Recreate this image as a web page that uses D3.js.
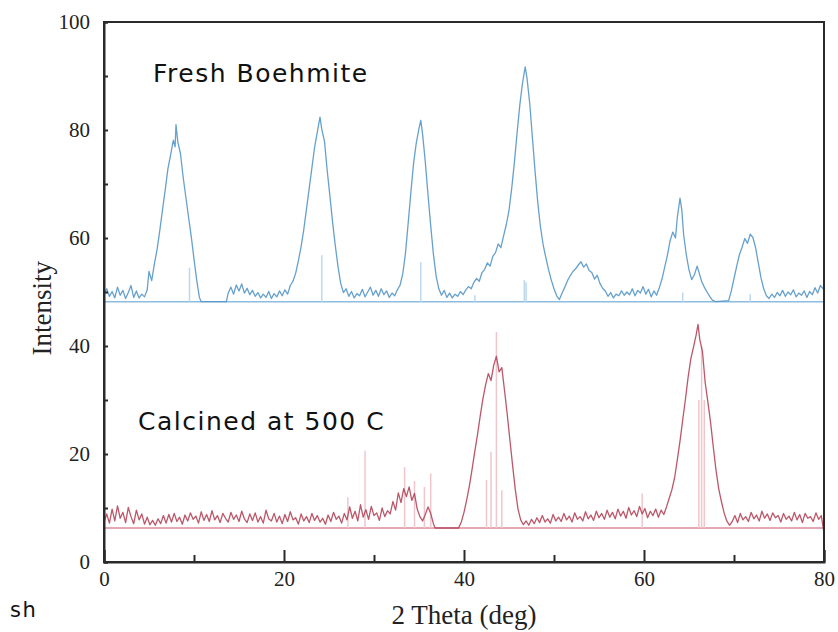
<!DOCTYPE html>
<html>
<head>
<meta charset="utf-8">
<script src="https://cdn.jsdelivr.net/npm/d3@7"></script>
<style>
  html, body { margin: 0; padding: 0; background: #fff; }
  svg { display: block; }
</style>
</head>
<body>
<script>
// ---------------- DATA ----------------
const xTicksMajor = [0, 20, 40, 60, 80];
const xTicksMinor = [10, 30, 50, 70];
const yTicksMajor = [0, 20, 40, 60, 80, 100];
const yTicksMinor = [10, 30, 50, 70, 90];

const freshLabel = "Fresh Boehmite";
const calcinedLabel = "Calcined at 500 C";
const freshBaseline = 48.2;
const calcinedBaseline = 6.3;

// Fresh boehmite pattern [2theta, intensity]
const freshPattern = [
[0.0,49.5],[0.3,50.6],[0.6,49.2],[0.9,50.1],[1.2,48.9],[1.5,50.9],[1.8,49.4],[2.1,50.3],[2.4,48.8],[2.7,49.9],
[3.0,51.2],[3.3,49.0],[3.6,50.2],[3.9,48.9],[4.2,49.6],[4.5,49.1],[4.8,50.4],[5.0,53.8],[5.3,52.1],[5.6,55.2],
[5.9,57.9],[6.2,61.4],[6.5,65.2],[6.8,68.9],[7.1,72.8],[7.4,75.4],[7.7,78.1],[7.9,76.9],[8.0,81.0],[8.2,77.8],
[8.5,75.6],[8.8,71.2],[9.1,67.5],[9.4,63.8],[9.7,60.2],[10.0,56.1],[10.3,52.2],[10.6,49.0],[10.8,48.2],[13.6,48.2],
[13.8,49.8],[14.1,50.9],[14.4,49.6],[14.7,51.3],[15.0,50.2],[15.3,51.5],[15.6,49.8],[15.9,50.7],[16.2,49.5],[16.5,50.3],
[16.8,49.2],[17.1,49.9],[17.4,48.9],[17.7,49.6],[18.0,49.0],[18.3,50.1],[18.6,48.8],[18.9,49.7],[19.2,49.1],[19.5,50.2],
[19.8,49.3],[20.1,50.4],[20.4,49.6],[20.7,51.2],[21.0,52.0],[21.3,53.5],[21.6,55.8],[21.9,58.4],[22.2,61.6],[22.5,65.4],
[22.8,69.2],[23.1,73.0],[23.4,76.8],[23.7,79.6],[24.0,82.4],[24.2,80.1],[24.5,77.9],[24.8,72.5],[25.1,67.8],[25.4,62.9],
[25.7,58.6],[26.0,54.7],[26.3,51.6],[26.6,49.9],[26.9,50.6],[27.2,49.2],[27.5,50.1],[27.8,48.9],[28.1,49.7],[28.4,49.3],
[28.7,50.5],[29.0,49.1],[29.3,50.0],[29.6,50.9],[29.9,49.4],[30.2,50.3],[30.5,49.2],[30.8,50.6],[31.1,49.5],[31.4,50.2],
[31.7,49.0],[32.0,49.8],[32.3,49.3],[32.6,50.4],[32.9,51.3],[33.2,53.4],[33.5,57.2],[33.8,62.8],[34.1,68.5],[34.4,73.9],
[34.7,77.6],[35.0,80.3],[35.2,81.8],[35.4,79.2],[35.7,74.1],[36.0,68.0],[36.3,62.3],[36.6,57.0],[36.9,53.0],[37.2,50.6],
[37.5,49.4],[37.8,50.3],[38.1,49.0],[38.4,49.8],[38.7,48.9],[39.0,49.6],[39.3,49.2],[39.6,50.1],[39.9,49.5],[40.2,50.4],
[40.5,51.0],[40.8,50.6],[41.1,51.8],[41.4,52.5],[41.7,52.0],[42.0,53.6],[42.3,54.2],[42.6,55.4],[42.9,54.8],[43.2,56.6],
[43.5,57.3],[43.8,58.9],[44.1,58.2],[44.4,60.4],[44.7,62.5],[45.0,65.1],[45.3,69.2],[45.6,74.0],[45.9,79.5],[46.2,84.6],
[46.5,88.7],[46.8,91.7],[47.0,89.6],[47.3,85.0],[47.6,78.6],[47.9,72.3],[48.2,66.5],[48.5,62.0],[48.8,58.7],[49.1,56.3],
[49.4,54.1],[49.7,52.2],[50.0,50.6],[50.3,49.3],[50.6,48.6],[50.9,49.8],[51.2,50.9],[51.5,52.1],[51.8,53.0],[52.1,53.8],
[52.4,54.3],[52.7,55.0],[53.0,55.6],[53.3,54.6],[53.6,55.2],[53.9,54.0],[54.2,53.6],[54.5,52.4],[54.8,53.1],[55.1,51.6],
[55.4,50.7],[55.7,50.2],[56.0,49.2],[56.3,49.9],[56.6,48.9],[56.9,49.6],[57.2,49.3],[57.5,50.2],[57.8,49.4],[58.1,50.0],
[58.4,49.5],[58.7,50.6],[59.0,49.3],[59.3,50.3],[59.6,49.8],[59.9,51.0],[60.2,49.6],[60.5,50.5],[60.8,49.1],[61.1,50.2],
[61.4,49.4],[61.7,50.8],[62.0,52.4],[62.3,54.6],[62.6,56.8],[62.9,59.5],[63.2,61.1],[63.5,60.0],[63.7,63.8],[64.0,67.4],
[64.2,65.2],[64.4,60.7],[64.7,56.9],[65.0,54.1],[65.3,52.3],[65.6,53.2],[65.9,54.8],[66.1,53.7],[66.4,52.0],[66.7,50.9],
[67.0,50.0],[67.3,49.2],[67.6,48.5],[68.0,48.2],[69.4,48.4],[69.7,50.2],[70.0,52.5],[70.3,54.8],[70.6,56.9],[70.9,58.3],
[71.2,59.9],[71.5,59.0],[71.8,60.7],[72.1,60.1],[72.4,58.2],[72.7,55.4],[73.0,52.6],[73.3,50.6],[73.6,49.3],[73.9,48.8],
[74.2,49.6],[74.5,49.0],[74.8,49.9],[75.1,49.3],[75.4,50.3],[75.7,49.2],[76.0,50.0],[76.3,49.5],[76.6,50.4],[76.9,49.1],
[77.2,49.8],[77.5,49.4],[77.8,50.2],[78.1,49.0],[78.4,50.1],[78.7,49.5],[79.0,50.8],[79.3,49.8],[79.6,51.2],[80.0,50.4]
];

// Calcined at 500 C pattern [2theta, intensity]
const calcinedPattern = [
[0.0,7.4],[0.3,8.9],[0.6,7.2],[0.9,9.8],[1.2,7.6],[1.5,10.4],[1.8,8.1],[2.1,9.2],[2.4,7.3],[2.7,10.1],
[3.0,8.4],[3.3,7.1],[3.6,9.6],[3.9,7.8],[4.2,8.9],[4.5,7.0],[4.8,8.3],[5.1,6.9],[5.4,7.7],[5.7,6.8],
[6.0,8.0],[6.3,7.1],[6.6,8.6],[6.9,7.2],[7.2,8.8],[7.5,7.4],[7.8,9.0],[8.1,7.5],[8.4,8.3],[8.7,7.0],
[9.0,8.7],[9.3,7.6],[9.6,9.1],[9.9,7.9],[10.2,8.5],[10.5,7.2],[10.8,9.3],[11.1,7.7],[11.4,8.8],[11.7,7.5],
[12.0,9.5],[12.3,7.8],[12.6,8.6],[12.9,7.3],[13.2,9.0],[13.5,8.1],[13.8,7.4],[14.1,9.2],[14.4,7.9],[14.7,8.7],
[15.0,7.5],[15.3,9.4],[15.6,8.0],[15.9,7.3],[16.2,8.9],[16.5,7.7],[16.8,9.1],[17.1,7.4],[17.4,8.4],[17.7,7.2],
[18.0,9.6],[18.3,8.0],[18.6,7.6],[18.9,9.0],[19.2,7.4],[19.5,8.5],[19.8,7.1],[20.1,8.8],[20.4,7.5],[20.7,9.3],
[21.0,7.8],[21.3,8.2],[21.6,7.0],[21.9,8.9],[22.2,7.6],[22.5,8.4],[22.8,7.3],[23.1,9.0],[23.4,7.7],[23.7,8.6],
[24.0,7.4],[24.3,8.1],[24.6,7.0],[24.9,8.7],[25.2,7.5],[25.5,9.2],[25.8,7.9],[26.1,8.5],[26.4,7.2],[26.7,9.0],
[27.0,7.8],[27.3,10.2],[27.6,8.1],[27.9,9.4],[28.2,7.6],[28.5,10.6],[28.8,8.3],[29.1,9.7],[29.4,7.9],[29.7,10.3],
[30.0,8.6],[30.3,9.1],[30.6,7.7],[30.9,10.0],[31.2,8.4],[31.5,9.5],[31.8,8.9],[32.1,11.2],[32.4,9.6],[32.7,12.8],
[33.0,11.0],[33.3,13.6],[33.6,12.1],[33.9,13.9],[34.2,11.4],[34.5,12.7],[34.8,9.8],[35.1,8.4],[35.4,7.6],[35.7,8.8],
[36.0,10.2],[36.3,9.0],[36.6,7.1],[36.8,6.3],[39.4,6.3],[39.7,7.4],[40.0,9.2],[40.3,11.5],[40.6,14.1],[40.9,17.2],
[41.2,20.5],[41.5,23.6],[41.8,27.0],[42.1,30.2],[42.4,32.8],[42.7,34.9],[43.0,33.6],[43.3,36.4],[43.6,38.1],[43.9,35.2],
[44.2,36.0],[44.5,31.8],[44.8,27.4],[45.1,22.6],[45.4,17.9],[45.7,13.4],[46.0,9.8],[46.3,7.8],[46.6,6.9],[46.9,7.6],
[47.2,6.8],[47.5,7.9],[47.8,7.1],[48.1,8.2],[48.4,7.3],[48.7,8.6],[49.0,7.4],[49.3,8.0],[49.6,7.2],[49.9,8.8],
[50.2,7.6],[50.5,8.3],[50.8,7.5],[51.1,9.0],[51.4,7.8],[51.7,8.5],[52.0,7.4],[52.3,9.1],[52.6,7.9],[52.9,8.4],
[53.2,7.6],[53.5,9.3],[53.8,8.0],[54.1,8.7],[54.4,7.7],[54.7,9.4],[55.0,8.2],[55.3,9.0],[55.6,7.9],[55.9,9.6],
[56.2,8.3],[56.5,9.2],[56.8,8.0],[57.1,9.8],[57.4,8.5],[57.7,9.4],[58.0,8.1],[58.3,10.1],[58.6,8.7],[58.9,9.5],
[59.2,8.4],[59.5,10.3],[59.8,8.9],[60.1,9.9],[60.4,8.2],[60.7,9.4],[61.0,8.6],[61.3,9.8],[61.6,8.3],[61.9,9.6],
[62.2,8.8],[62.5,10.2],[62.8,11.8],[63.1,13.4],[63.4,15.6],[63.7,18.9],[64.0,22.4],[64.3,26.3],[64.6,30.1],[64.9,34.2],
[65.2,37.6],[65.5,39.8],[65.8,42.1],[66.0,44.0],[66.2,41.2],[66.5,38.9],[66.8,33.2],[67.1,29.6],[67.4,25.8],[67.7,21.3],
[68.0,17.0],[68.3,13.6],[68.6,11.2],[68.9,9.1],[69.2,7.6],[69.5,6.8],[69.8,7.5],[70.1,8.6],[70.4,7.3],[70.7,9.0],
[71.0,7.8],[71.3,8.4],[71.6,7.5],[71.9,9.2],[72.2,8.0],[72.5,8.7],[72.8,7.6],[73.1,9.4],[73.4,8.1],[73.7,8.9],
[74.0,7.7],[74.3,9.1],[74.6,8.2],[74.9,8.6],[75.2,7.4],[75.5,9.0],[75.8,7.9],[76.1,8.5],[76.4,7.6],[76.7,9.2],
[77.0,7.8],[77.3,8.8],[77.6,7.3],[77.9,9.0],[78.2,8.1],[78.5,8.4],[78.8,7.5],[79.1,9.1],[79.4,7.9],[79.7,8.6],[80.0,5.4]
];

// Reference stick lines [2theta, top intensity]
const freshSticks = [[9.5,54.5],[24.2,56.8],[35.2,55.5],[41.2,49.4],[46.7,52.2],[46.9,51.8],[64.3,49.9],[71.8,49.6]];
const calcinedSticks = [[27.1,12.0],[29.0,20.6],[33.4,17.6],[34.5,15.0],[35.6,13.9],[36.3,16.4],[42.5,15.2],
  [43.0,20.4],[43.6,42.6],[44.2,13.3],[59.8,12.7],[66.1,30.0],[66.4,40.0],[66.7,30.0]];

// ---------------- CHART ----------------
const W = 838, H = 632;
const m = {left: 104, right: 14, top: 22, bottom: 70};
const svg = d3.select("body").append("svg").attr("width", W).attr("height", H);

const x = d3.scaleLinear().domain([0, 80]).range([m.left, W - m.right]);
const y = d3.scaleLinear().domain([0, 100]).range([H - m.bottom, m.top]);

const line = d3.line().x(d => x(d[0])).y(d => y(d[1]));

function drawSeries(pattern, sticks, base, cBase, cStick, cLine) {
  const g = svg.append("g");
  g.append("line")
    .attr("x1", x(0)).attr("x2", x(80)).attr("y1", y(base)).attr("y2", y(base))
    .attr("stroke", cBase).attr("stroke-width", 1.6);
  g.selectAll(".stick").data(sticks).enter().append("line")
    .attr("x1", d => x(d[0])).attr("x2", d => x(d[0]))
    .attr("y1", y(base)).attr("y2", d => y(d[1]))
    .attr("stroke", cStick).attr("stroke-width", 1.5);
  g.append("path").datum(pattern).attr("d", line)
    .attr("fill", "none").attr("stroke", cLine).attr("stroke-width", 1.3)
    .attr("stroke-linejoin", "round").attr("opacity", 0.9);
}

drawSeries(freshPattern, freshSticks, freshBaseline, "#8cbde0", "#bcd8ee", "#5597c9");
drawSeries(calcinedPattern, calcinedSticks, calcinedBaseline, "#dc8d9a", "#f0c6cd", "#b5455a");

// Frame
svg.append("rect")
  .attr("x", x(0)).attr("y", y(100))
  .attr("width", x(80) - x(0)).attr("height", y(0) - y(100))
  .attr("fill", "none").attr("stroke", "#2a2a2a").attr("stroke-width", 2);

// Axes
const serif = "'Liberation Serif', 'Times New Roman', serif";
svg.append("g").attr("transform", `translate(0,${y(0)})`)
  .call(d3.axisBottom(x).tickValues(xTicksMajor).tickSize(-12).tickPadding(9).tickFormat(d3.format("d")));
svg.append("g").attr("transform", `translate(0,${y(0)})`)
  .call(d3.axisBottom(x).tickValues(xTicksMinor).tickSize(-7).tickFormat(""))
  .call(g => g.select(".domain").remove());
svg.append("g").attr("transform", `translate(${x(0)},0)`)
  .call(d3.axisLeft(y).tickValues(yTicksMajor).tickSize(-4).tickPadding(14).tickFormat(d3.format("d")));
svg.append("g").attr("transform", `translate(${x(0)},0)`)
  .call(d3.axisLeft(y).tickValues(yTicksMinor).tickSize(-4).tickFormat(""))
  .call(g => g.select(".domain").remove());

svg.selectAll(".domain").attr("stroke", "#2a2a2a").attr("stroke-width", 2);
svg.selectAll(".tick line").attr("stroke", "#2a2a2a").attr("stroke-width", 2);
svg.selectAll(".tick text").attr("font-family", serif).attr("font-size", 21).attr("fill", "#222");

// Axis titles
svg.append("text").attr("x", (x(0) + x(80)) / 2).attr("y", 624)
  .attr("text-anchor", "middle").attr("font-family", serif).attr("font-size", 27).attr("fill", "#222")
  .text("2 Theta (deg)");
svg.append("text").attr("transform", `translate(51,${y(47)}) rotate(-90)`)
  .attr("text-anchor", "middle").attr("font-family", serif).attr("font-size", 27).attr("fill", "#222")
  .text("Intensity");

// Series labels
const sans = "'DejaVu Sans', Verdana, sans-serif";
svg.append("text").attr("x", 153).attr("y", 82)
  .attr("font-family", sans).attr("font-size", 25).attr("letter-spacing", 1.5).attr("fill", "#111")
  .text(freshLabel);
svg.append("text").attr("x", 138).attr("y", 430)
  .attr("font-family", sans).attr("font-size", 25).attr("letter-spacing", 1.5).attr("fill", "#111")
  .text(calcinedLabel);

svg.append("text").attr("x", 10).attr("y", 617)
  .attr("font-family", sans).attr("font-size", 21).attr("letter-spacing", 1.5).attr("fill", "#111")
  .text("sh");
</script>
</body>
</html>
